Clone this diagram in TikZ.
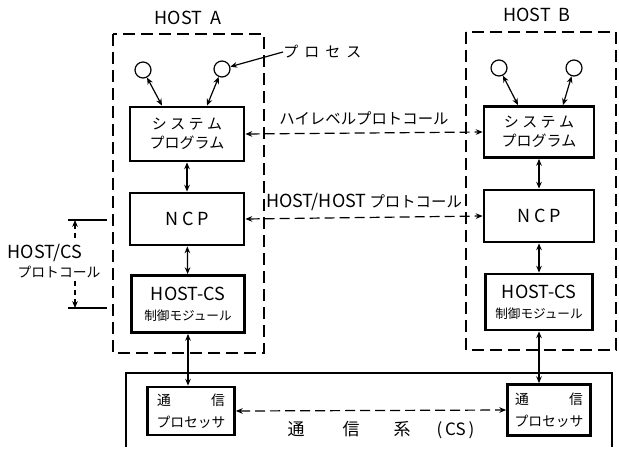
\documentclass[tikz,border=0pt]{standalone}
\usepackage{fontspec}
\setmainfont{Noto Sans CJK JP}
\usetikzlibrary{arrows.meta}

\begin{document}
\begin{tikzpicture}[x=.5pt,y=-.5pt,>={Stealth[length=3.4pt,width=2.8pt]},
 every node/.style={font=\fontsize{9}{10}\selectfont,inner sep=0pt},
 bx/.style={draw,line width=1.4pt,align=center},
 jp/.style={font=\fontsize{7.5}{9.5}\selectfont},
 sm/.style={font=\fontsize{6.9}{11}\selectfont},
 pr/.style={circle,draw,line width=.6pt,minimum size=8pt},
 hst/.style={line width=.7pt,dash pattern=on 6pt off 3pt},
 lk/.style={<->,line width=.6pt},
 prt/.style={<->,line width=.6pt,dash pattern=on 5pt off 2.5pt}]
\newcommand{\HSlink}[3]{\draw[#3] (#1) -- (#2);}
\useasboundingbox (0,0) rectangle (619,449);
\node (A-lab) at (188,18) {HOST\ \ A};
\draw[hst] (113,34) rectangle (264,353);
\node[pr] (A-p1) at (143,70) {}; \node[pr] (A-p2) at (222,69) {};
\node[bx,jp,minimum width=57pt,minimum height=27pt] (A-sys) at (187,134) {シ ス テ ム\\プログラム};
\node[bx,minimum width=57pt,minimum height=26pt] (A-ncp) at (187,219) {N C P};
\node[bx,minimum width=56.5pt,minimum height=28.5pt] (A-hcs) at (188,304) {HOST-CS\\{\fontsize{6.3}{8}\selectfont 制御モジュール}};
\node[anchor=west,jp] (prc) at (283,52) {プ\hspace{3pt}ロ\hspace{3pt}セ\hspace{3pt}ス};
\draw[->,line width=.6pt] (prc.west) -- (A-p2);
\HSlink{A-p1}{[xshift=-12.5pt]A-sys.north}{lk}
\HSlink{A-p2}{[xshift=10pt]A-sys.north}{lk}
\HSlink{A-sys}{A-ncp}{lk}
\HSlink{A-ncp}{A-hcs}{lk}
\node (B-lab) at (537,15) {HOST\ \ B};
\draw[hst] (466,32) rectangle (616,350);
\node[pr] (B-p1) at (499,68) {}; \node[pr] (B-p2) at (574,68) {};
\node[bx,jp,minimum width=55pt,minimum height=25.5pt] (B-sys) at (539,132) {シ ス テ ム\\プログラム};
\node[bx,minimum width=55pt,minimum height=26pt] (B-ncp) at (539,216) {N C P};
\node[bx,minimum width=53.5pt,minimum height=28pt] (B-hcs) at (539,302) {HOST-CS\\{\fontsize{6.3}{8}\selectfont 制御モジュール}};
\HSlink{B-p1}{[xshift=-10.5pt]B-sys.north}{lk}
\HSlink{B-p2}{[xshift=12pt]B-sys.north}{lk}
\HSlink{B-sys}{B-ncp}{lk}
\HSlink{B-ncp}{B-hcs}{lk}
\draw[prt] (A-sys.east) -- node[above=3.5pt,jp,font=\fontsize{7.7}{9}\selectfont] (hlp) {ハイレベルプロトコール} (B-sys.west);
\draw[prt] (A-ncp.east) -- node[above=3pt] (hhp) {HOST/HOST\,{\fontsize{7.7}{9}\selectfont プロトコール}} (B-ncp.west);
\draw[line width=.6pt] (126,447) |- (612,373) -- (612,447);
\node[bx,sm,minimum width=43.5pt,minimum height=24pt] (A-cp) at (191,411) {\makebox[34pt]{通\hfill 信}\\プロセッサ};
\node[bx,sm,minimum width=41.5pt,minimum height=25.5pt] (B-cp) at (549,410) {\makebox[34pt]{通\hfill 信}\\プロセッサ};
\HSlink{A-hcs.south}{A-hcs.south |- A-cp.north}{lk}
\HSlink{B-hcs.south}{B-hcs.south |- B-cp.north}{lk}
\draw[prt] (A-cp.east) -- (B-cp.west);
\node[font=\fontsize{8.5}{9}\selectfont] (csl) at (381,430) {通\hspace{19pt}信\hspace{17pt}系\hspace{13pt}(\,CS\,)};
\node (hcs1) at (45,253) {HOST/CS};
\node[font=\fontsize{6.9}{8}\selectfont] (hcs2) at (59,272) {プロトコール};
\coordinate (t1a) at (68,220); \coordinate (t1b) at (107,220);
\coordinate (t2a) at (68,308); \coordinate (t2b) at (107,308);
\coordinate (v1) at (75,238); \coordinate (v2) at (75,281);
\draw[line width=.6pt] (t1a) -- (t1b); \draw[line width=.6pt] (t2a) -- (t2b);
\draw[->,line width=.6pt,dash pattern=on 2.5pt off 2pt] (v1) -- (v1 |- t1a);
\draw[->,line width=.6pt,dash pattern=on 2.5pt off 2pt] (v2) -- (v2 |- t2a);
\end{tikzpicture}
\end{document}
